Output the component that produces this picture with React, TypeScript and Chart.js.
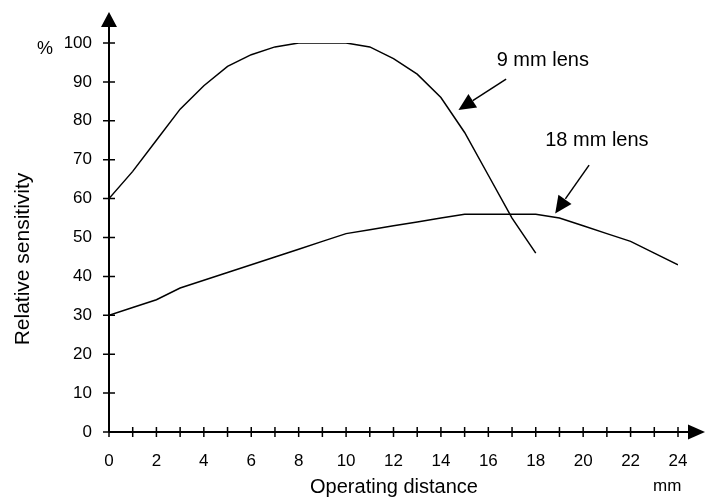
import React, { useEffect, useRef } from "react";
import { Chart, registerables } from "chart.js";

Chart.register(...registerables);

// Operating distance (mm) and relative sensitivity (%)
const lens9X = [0, 1, 2, 3, 4, 5, 6, 7, 8, 9, 10, 11, 12, 13, 14, 15, 16, 17, 18];
const lens9Y = [60, 67, 75, 83, 89, 94, 97, 99, 100, 100, 100, 99, 96, 92, 86, 77, 66, 55, 46];

const lens18X = [0, 1, 2, 3, 4, 5, 6, 7, 8, 9, 10, 11, 12, 13, 14, 15, 16, 17, 18, 19, 20, 21, 22, 23, 24];
const lens18Y = [30, 32, 34, 37, 39, 41, 43, 45, 47, 49, 51, 52, 53, 54, 55, 56, 56, 56, 56, 55, 53, 51, 49, 46, 43];

const seriesLabels = ["9 mm lens", "18 mm lens"];
const xTitle = "Operating distance";
const yTitle = "Relative sensitivity";
const xUnit = "mm";
const yUnit = "%";

// annotation anchors in data space: text position, arrow start, arrow tip
const annot9 = { tx: 16.35, ty: 94.2, sx: 16.75, sy: 90.7, ex: 14.74, ey: 82.8 };
const annot18 = { tx: 18.4, ty: 73.4, sx: 20.25, sy: 68.6, ex: 18.82, ey: 56.2 };

const FONT = "'Liberation Sans', Arial, Helvetica, sans-serif";

function arrowHead(ctx: CanvasRenderingContext2D, x1: number, y1: number, x2: number, y2: number, len: number, half: number) {
  const a = Math.atan2(y2 - y1, x2 - x1);
  const bx = x2 - len * Math.cos(a);
  const by = y2 - len * Math.sin(a);
  ctx.beginPath();
  ctx.moveTo(x2, y2);
  ctx.lineTo(bx + half * Math.sin(a), by - half * Math.cos(a));
  ctx.lineTo(bx - half * Math.sin(a), by + half * Math.cos(a));
  ctx.closePath();
  ctx.fill();
}

const decorPlugin = {
  id: "decor",
  afterDraw(chart: any) {
    const ctx: CanvasRenderingContext2D = chart.ctx;
    const xs = chart.scales.x;
    const ys = chart.scales.y;
    const x0 = xs.getPixelForValue(0);
    const xEnd = xs.getPixelForValue(24);
    const y0 = ys.getPixelForValue(0);
    const yTop = ys.getPixelForValue(100);
    ctx.save();
    ctx.strokeStyle = "#000";
    ctx.fillStyle = "#000";
    // axes
    ctx.lineWidth = 2;
    ctx.beginPath();
    ctx.moveTo(x0, y0);
    ctx.lineTo(xEnd + 12, y0);
    ctx.moveTo(x0, y0);
    ctx.lineTo(x0, yTop - 17);
    ctx.stroke();
    arrowHead(ctx, x0, y0, xEnd + 27, y0, 17, 7.5);
    arrowHead(ctx, x0, y0, x0, yTop - 31, 15, 8);
    // tick marks crossing the axes
    ctx.lineWidth = 1.5;
    ctx.beginPath();
    xs.ticks.forEach((t: any) => {
      const p = xs.getPixelForValue(t.value);
      ctx.moveTo(p, y0 - 5);
      ctx.lineTo(p, y0 + 5);
    });
    ys.ticks.forEach((t: any) => {
      const p = ys.getPixelForValue(t.value);
      ctx.moveTo(x0 - 6, p);
      ctx.lineTo(x0 + 6, p);
    });
    ctx.stroke();
    // titles
    ctx.font = `20px ${FONT}`;
    ctx.textAlign = "center";
    ctx.textBaseline = "alphabetic";
    ctx.fillText(xTitle, (xs.left + xs.right) / 2 + 0.5, 493);
    ctx.save();
    ctx.translate(29, 259);
    ctx.rotate(-Math.PI / 2);
    ctx.font = `21px ${FONT}`;
    ctx.fillText(yTitle, 0, 0);
    ctx.restore();
    ctx.font = `17px ${FONT}`;
    ctx.textAlign = "left";
    ctx.fillText(xUnit, xEnd - 25, 491);
    ctx.font = `18px ${FONT}`;
    ctx.fillText(yUnit, 37, 54);
    // series annotations
    ctx.font = `20px ${FONT}`;
    ctx.lineWidth = 1.5;
    [annot9, annot18].forEach((a, i) => {
      ctx.fillText(seriesLabels[i], xs.getPixelForValue(a.tx), ys.getPixelForValue(a.ty));
      const sx = xs.getPixelForValue(a.sx);
      const sy = ys.getPixelForValue(a.sy);
      const ex = xs.getPixelForValue(a.ex);
      const ey = ys.getPixelForValue(a.ey);
      ctx.beginPath();
      ctx.moveTo(sx, sy);
      ctx.lineTo(ex + (sx - ex) * 0.3, ey + (sy - ey) * 0.3);
      ctx.stroke();
      arrowHead(ctx, sx, sy, ex, ey, 17, 8);
    });
    ctx.restore();
  },
};

export default function App() {
  const canvasRef = useRef<HTMLCanvasElement | null>(null);
  useEffect(() => {
    if (!canvasRef.current) return;
    const chart = new Chart(canvasRef.current, {
      type: "line",
      data: {
        datasets: [
          {
            label: seriesLabels[0],
            data: lens9X.map((x, i) => ({ x, y: lens9Y[i] })),
            borderColor: "#000",
            borderWidth: 1.5,
            pointRadius: 0,
            tension: 0,
            fill: false,
          },
          {
            label: seriesLabels[1],
            data: lens18X.map((x, i) => ({ x, y: lens18Y[i] })),
            borderColor: "#000",
            borderWidth: 1.5,
            pointRadius: 0,
            tension: 0,
            fill: false,
          },
        ],
      },
      options: {
        animation: false,
        responsive: false,
        maintainAspectRatio: false,
        layout: { padding: { left: 0, top: 43, right: 34, bottom: 0 } },
        plugins: { legend: { display: false }, tooltip: { enabled: false } },
        scales: {
          x: {
            type: "linear",
            min: 0,
            max: 24,
            grid: { display: false, drawTicks: false },
            border: { display: false },
            ticks: {
              stepSize: 1,
              autoSkip: false,
              maxRotation: 0,
              padding: 19,
              color: "#000",
              font: { family: FONT, size: 17 },
              callback: (v: any) => (Number(v) % 2 === 0 ? String(v) : ""),
            },
            afterFit: (s: any) => {
              s.height = 70;
            },
          },
          y: {
            min: 0,
            max: 100,
            grid: { display: false, drawTicks: false },
            border: { display: false },
            ticks: {
              stepSize: 10,
              padding: 17,
              color: "#000",
              font: { family: FONT, size: 17 },
            },
            afterFit: (s: any) => {
              s.width = 109;
            },
          },
        },
      },
      plugins: [decorPlugin],
    });
    return () => chart.destroy();
  }, []);
  return (
    <div style={{ position: "fixed", left: 0, top: 0, width: 712, height: 502, background: "#fff" }}>
      <canvas ref={canvasRef} width={712} height={502} style={{ display: "block" }} />
    </div>
  );
}
